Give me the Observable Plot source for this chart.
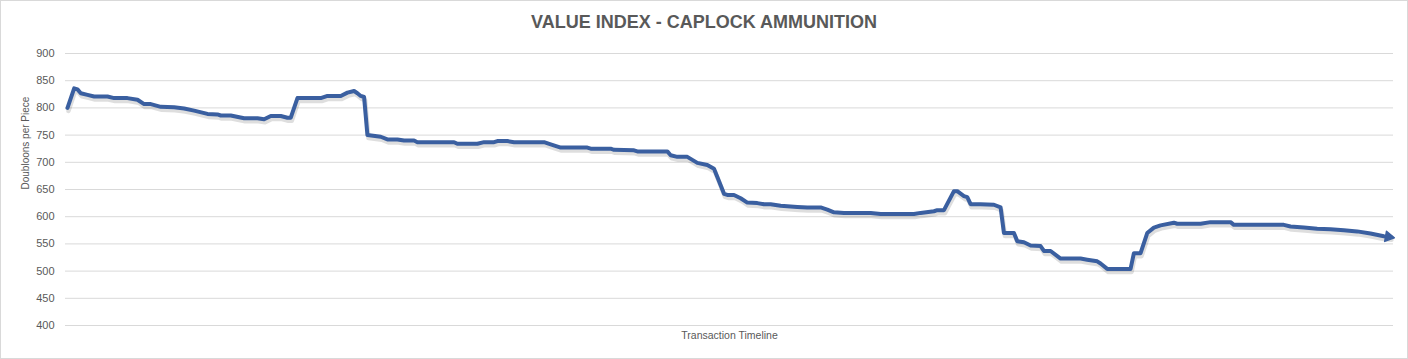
<!DOCTYPE html>
<html>
<head>
<meta charset="utf-8">
<script src="https://cdn.jsdelivr.net/npm/d3@7"></script>
<script src="https://cdn.jsdelivr.net/npm/@observablehq/plot@0.6"></script>
<style>
  html, body { margin: 0; padding: 0; background: #fff; }
  #chart {
    width: 1408px; height: 359px; box-sizing: border-box;
    border: 1px solid #d9d9d9; background: #fff; overflow: hidden;
    font-family: "Liberation Sans", Arial, sans-serif;
  }
  #title {
    height: 40px; box-sizing: border-box; padding-top: 11px;
    text-align: center; font-size: 18px; font-weight: bold; color: #595959;
    line-height: 20px;
  }
</style>
</head>
<body>
<div id="chart">
  <div id="title">VALUE INDEX - CAPLOCK AMMUNITION</div>
</div>
<script>
// ---- data ----
const chartTitle = "VALUE INDEX - CAPLOCK AMMUNITION";
const yLabel = "Doubloons per Piece";
const xLabel = "Transaction Timeline";
const yTicks = [400, 450, 500, 550, 600, 650, 700, 750, 800, 850, 900];

// transaction number along the timeline
const transaction = [
  0, 2, 3, 4, 6, 8, 12, 14, 18, 21, 23, 25, 28, 32, 35, 38, 42, 45, 46, 49,
  53, 57, 59, 61, 64, 66, 67, 69, 76, 78, 82, 84, 86, 87, 88, 89, 90, 94, 96, 99,
  101, 104, 105, 116, 117, 123, 125, 128, 129, 132, 134, 143, 145, 148, 156, 157, 163, 164, 170, 171,
  180, 181, 183, 186, 189, 192, 194, 195, 197, 198, 200, 202, 204, 207, 209, 211, 214, 219, 222, 226,
  228, 230, 233, 241, 244, 254, 256, 260, 261, 263, 266, 267, 269, 270, 271, 274, 278, 280, 281, 284,
  285, 287, 289, 292, 293, 295, 298, 304, 306, 309, 310, 312, 319, 320, 322, 324, 326, 328, 332, 333,
  340, 343, 349, 350, 365, 367, 371, 375, 379, 383, 387, 391, 395, 397
];
// doubloons per piece at each transaction
const price = [
  800, 836, 834, 827, 824, 821, 821, 818, 818, 815, 807, 807, 802, 801, 799, 795, 789, 788, 786, 786,
  781, 781, 779, 785, 785, 782, 782, 818, 818, 822, 822, 828, 831, 827, 822, 820, 750, 747, 742, 742,
  740, 740, 737, 737, 734, 734, 737, 737, 739, 739, 737, 737, 733, 727, 727, 725, 725, 723, 722, 720,
  720, 713, 710, 710, 699, 695, 688, 673, 642, 640, 640, 634, 626, 625, 623, 623, 620, 618, 617, 617,
  613, 608, 607, 607, 605, 605, 607, 610, 612, 612, 647, 647, 638, 636, 623, 623, 622, 617, 570, 570,
  555, 553, 547, 546, 537, 537, 523, 523, 521, 518, 514, 504, 504, 533, 533, 570, 580, 584, 589, 587,
  587, 590, 590, 585, 585, 582, 580, 578, 577, 575, 573, 569, 564, 563
];

const rows = transaction.map((t, i) => ({t, v: price[i]}));
const last = rows.slice(-1);

const lineColor = "#3A5FA0";
const textColor = "#595959";

const plot = Plot.plot({
  width: 1406,
  height: 317,
  marginTop: 12,
  marginBottom: 33,
  marginLeft: 64,
  marginRight: 14,
  style: {fontFamily: "'Liberation Sans', Arial, sans-serif", fontSize: "11px", color: textColor, background: "#fff"},
  x: {domain: [-0.6, 397.9], axis: null},
  y: {domain: [400, 900], ticks: yTicks},
  marks: [
    Plot.gridY(yTicks, {stroke: "#d9d9d9", strokeOpacity: 1, strokeWidth: 1}),
    Plot.axisY(yTicks, {tickSize: 0, tickPadding: 11, label: null, fill: textColor, fontSize: 11}),
    Plot.text([yLabel], {frameAnchor: "left", rotate: -90, dx: -40, fill: textColor, fontSize: 10}),
    Plot.text([xLabel], {frameAnchor: "bottom", dy: 10, lineAnchor: "middle", fill: textColor, fontSize: 10.5}),
    // soft shadow
    Plot.line(rows, {x: "t", y: "v", stroke: "#000", strokeOpacity: 0.13, strokeWidth: 4.5, dx: 1, dy: 3, strokeLinejoin: "round"}),
    Plot.line(rows, {x: "t", y: "v", stroke: lineColor, strokeWidth: 4, strokeLinejoin: "round", strokeLinecap: "round"}),
    Plot.dot(last, {x: "t", y: "v", symbol: "triangle", r: 3.8, dx: -2, fill: lineColor, stroke: lineColor, strokeWidth: 1.5, strokeLinejoin: "round", rotate: 100})
  ]
});
document.getElementById("chart").appendChild(plot);
</script>
</body>
</html>
